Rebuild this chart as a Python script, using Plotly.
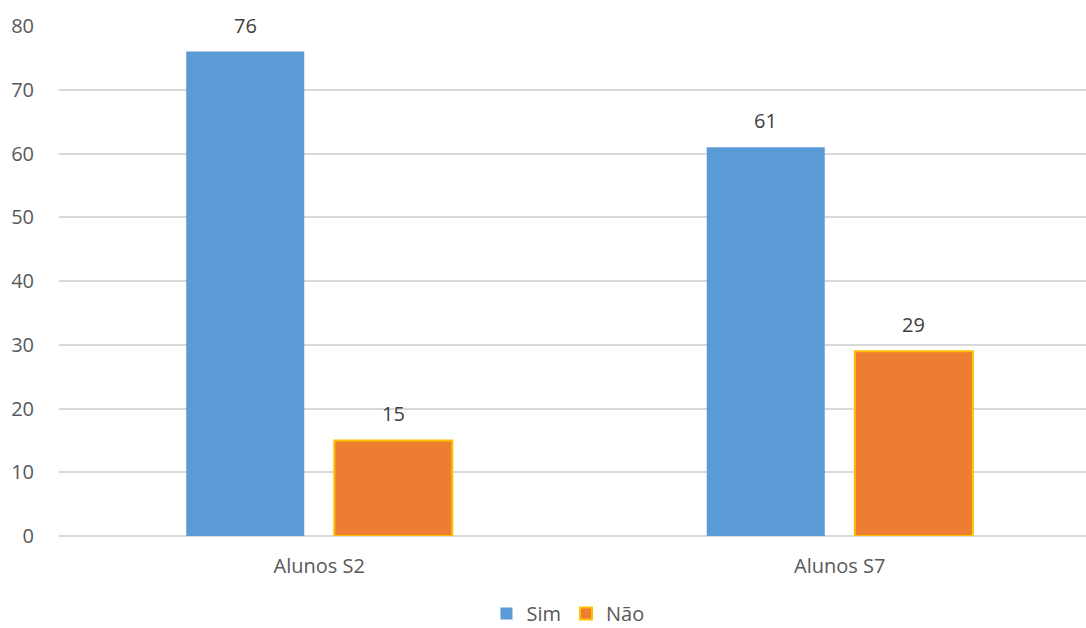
import plotly.graph_objects as go

# Survey responses per student group
categories = ["Alunos S2", "Alunos S7"]
sim_values = [76, 61]
nao_values = [15, 29]
y_ticks = [0, 10, 20, 30, 40, 50, 60, 70, 80]

FONT = "Open Sans"
TEXT_COLOR = "#595959"
LABEL_COLOR = "#404040"
SIZE = 20

fig = go.Figure()
fig.add_trace(go.Bar(
    name="Sim", x=categories, y=sim_values,
    marker=dict(color="#5B9BD5", line=dict(width=0)),
))
fig.add_trace(go.Bar(
    name="Não", x=categories, y=nao_values,
    marker=dict(color="#ED7D31", line=dict(color="#FFC000", width=2)),
))

# Value labels above each bar
for i, cat in enumerate(categories):
    for off, vals in ((-0.142, sim_values), (0.142, nao_values)):
        fig.add_annotation(
            x=i + off, y=vals[i], xref="x", yref="y",
            text=str(vals[i]), showarrow=False,
            yanchor="bottom", yshift=11,
            font=dict(family=FONT, size=SIZE, color=LABEL_COLOR),
        )

fig.update_layout(
    width=1086, height=628,
    margin=dict(l=59, r=0, t=26, b=92),
    paper_bgcolor="white", plot_bgcolor="white",
    barmode="group", bargap=0.431, bargroupgap=0.203,
    font=dict(family=FONT, size=SIZE, color=TEXT_COLOR),
    showlegend=True,
    legend=dict(
        orientation="h", xref="container", yref="container",
        x=0.523, y=0.023, xanchor="center", yanchor="middle",
        font=dict(family=FONT, size=SIZE, color=TEXT_COLOR),
        itemwidth=30, tracegroupgap=0,
    ),
    xaxis=dict(
        type="category", range=[-0.5, 1.473],
        showgrid=False, showline=False, zeroline=False,
        ticks="outside", ticklen=12, tickcolor="rgba(0,0,0,0)",
        tickfont=dict(family=FONT, size=SIZE, color=TEXT_COLOR),
    ),
    yaxis=dict(
        range=[0, 80], tickvals=y_ticks,
        showgrid=True, gridcolor="#D9D9D9", gridwidth=1.5,
        zeroline=True, zerolinecolor="#D9D9D9", zerolinewidth=1.5,
        showline=False,
        ticks="outside", ticklen=20, tickcolor="rgba(0,0,0,0)",
        tickfont=dict(family=FONT, size=SIZE, color=TEXT_COLOR),
    ),
)

fig.write_html("out.html")
